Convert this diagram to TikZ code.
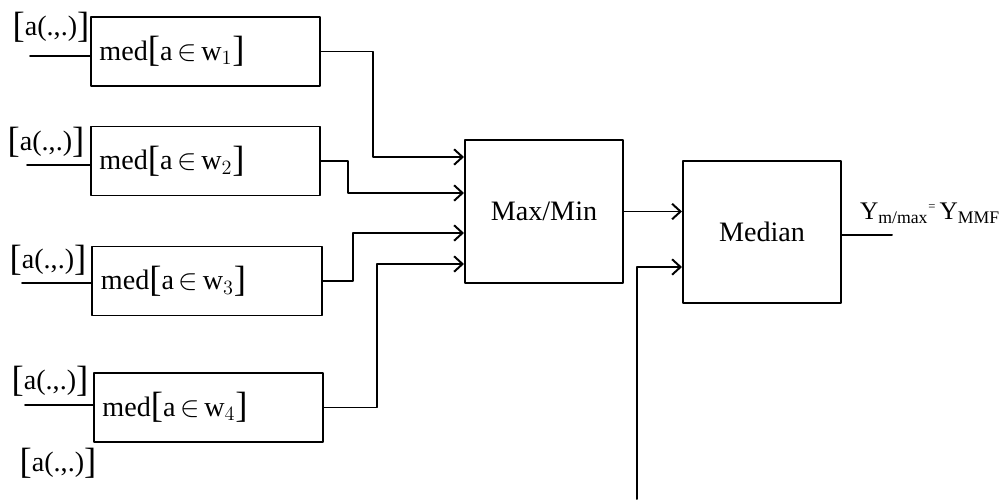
\documentclass[tikz,border=0pt]{standalone}
\usepackage{fontspec}
\setmainfont{Liberation Serif}
\usetikzlibrary{arrows.meta,positioning,calc}
\newcommand{\lbrk}{{\fontsize{26}{26}\selectfont\raisebox{-1pt}{[}}}
\newcommand{\rbrk}{{\fontsize{26}{26}\selectfont\raisebox{-1pt}{]}}}

\begin{document}
\begin{tikzpicture}[x=0.025cm,y=-0.025cm,line cap=round,line join=round,
  font=\fontsize{20}{24}\selectfont,
  medbox/.style={draw,line width=1.4pt,minimum width=5.725cm,
    minimum height=1.725cm,text width=5.3cm,align=left,
    inner xsep=0.2cm,inner ysep=0pt},
  opbox/.style={draw,line width=1.4pt,minimum width=3.95cm,
    minimum height=3.56cm},
  wire/.style={line width=1.4pt},
  feed/.style={line width=1.4pt,-{Straight Barb[length=6pt,width=11pt]}}]
  \useasboundingbox (0,0) rectangle (1002,501);

  % Window medians.
  \node[medbox] (med1) at (205.5,51.5) {med\lbrk a\,$\in$\,w$_{1}$\rbrk};
  \node[medbox] (med2) at (205.5,161) {med\lbrk a\,$\in$\,w$_{2}$\rbrk};
  \node[medbox] (med3) at (207,281) {med\lbrk a\,$\in$\,w$_{3}$\rbrk};
  \node[medbox] (med4) at (208.5,407.5) {med\lbrk a\,$\in$\,w$_{4}$\rbrk};

  % Inputs.
  \node (a1) at (51,27) {\lbrk a(.,.)\rbrk};
  \node (a2) at (46,142) {\lbrk a(.,.)\rbrk};
  \node (a3) at (48,260) {\lbrk a(.,.)\rbrk};
  \node (a4) at (50,381) {\lbrk a(.,.)\rbrk};
  \node (a5) at (58,463) {\lbrk a(.,.)\rbrk};
  \coordinate (in1) at (30,56);
  \coordinate (in2) at (27,165);
  \coordinate (in3) at (22,283);
  \coordinate (in4) at (25,405);
  \foreach \i in {1,...,4}
    \draw[wire] (in\i) -- (in\i -| med\i.west);

  % Combining stages.
  \node[opbox] (maxmin) at (544,211.5) {Max/Min};
  \node[opbox] (median) at (762,232) {Median};

  \coordinate (k1) at (373,157);
  \coordinate (k2) at (348,193);
  \coordinate (k3) at (353,233);
  \coordinate (k4) at (377,264);
  \foreach \i in {1,...,4}
    \draw[feed] (med\i.east) -| (k\i) -- (k\i -| maxmin.west);

  \draw[feed] (maxmin.east) -- (maxmin.east -| median.west);

  \coordinate (fb) at (637,499);
  \coordinate (fbtop) at (637,267);
  \draw[feed] (fb) -- (fbtop) -- (fbtop -| median.west);

  % Output.
  \coordinate (yout) at (892,235);
  \draw[wire] (median.east |- yout) -- (yout);
  \node[font=\fontsize{18}{22}\selectfont] (ylab) at (930,213)
    {Y\textsubscript{m/max}\raisebox{0.8ex}{\small=}\,Y\textsubscript{MMF}};
\end{tikzpicture}
\end{document}
